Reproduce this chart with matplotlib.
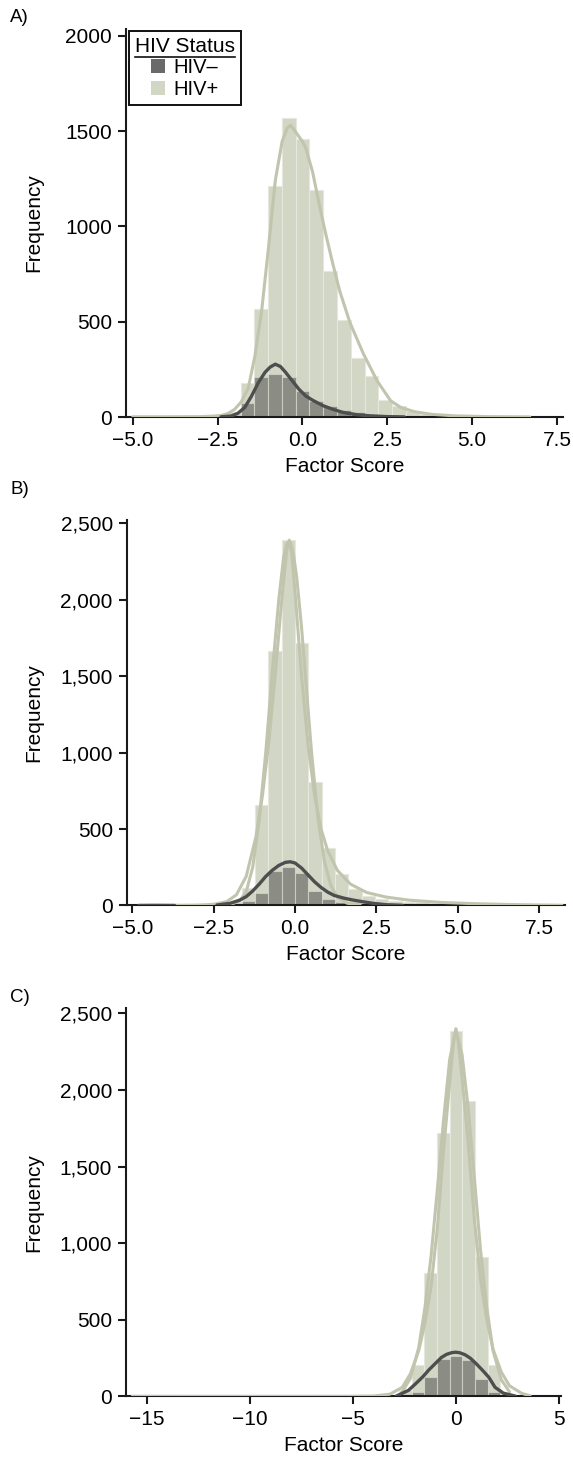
import numpy as np
import matplotlib
matplotlib.use("Agg")
import matplotlib.pyplot as plt
from matplotlib.patches import Patch
from matplotlib.lines import Line2D
from matplotlib.ticker import StrMethodFormatter

plt.rcParams['font.family'] = ['Liberation Sans', 'DejaVu Sans']

# ---- data ----
# panel A: bins start / width, counts per bin
a_start, a_width = -5.072, 0.406
a_pos = [1, 0, 1, 1, 2, 4, 10, 28, 180, 567, 1210, 1567, 1456, 1193, 768, 509,
         310, 213, 90, 58, 30, 18, 10, 6, 4, 3, 2, 1, 1]
a_neg = [0, 0, 0, 0, 0, 0, 2, 12, 75, 210, 228, 210, 135, 85, 57, 38,
         24, 14, 7, 4, 2, 1, 0, 0, 0, 0, 0, 0, 0]
a_kde_pos_x = [-5.0, -4.0, -3.0, -2.6, -2.4, -2.2, -2.0, -1.8, -1.6, -1.4, -1.2, -1.0, -0.8,
               -0.6, -0.45, -0.35, -0.2, 0.0, 0.1, 0.3, 0.5, 0.7, 0.9, 1.1, 1.4, 1.8, 2.2,
               2.6, 2.9, 3.3, 3.8, 4.5, 5.5, 6.7]
a_kde_pos_y = [1, 1, 2, 5, 8, 18, 40, 80, 150, 320, 560, 890, 1240, 1445, 1515, 1530, 1495,
               1445, 1410, 1285, 1110, 950, 800, 660, 495, 330, 190, 85, 50, 28, 14, 6, 2, 0.5]
a_kde_neg_x = [-2.4, -2.1, -1.9, -1.7, -1.5, -1.3, -1.1, -0.95, -0.8, -0.65, -0.5, -0.3,
               -0.1, 0.1, 0.3, 0.6, 0.9, 1.2, 1.6, 2.0, 2.5, 3.0]
a_kde_neg_y = [1, 5, 20, 50, 110, 180, 235, 262, 277, 265, 235, 190, 145, 110, 88, 60,
               40, 24, 12, 6, 2, 0.5]

# panel B
b_start, b_width = -4.92, 0.41
b_pos = [0, 0, 0, 0, 1, 2, 8, 25, 117, 658, 1668, 2388, 1720, 810, 378, 205, 105, 60,
         40, 32, 25, 20, 16, 13, 11, 9, 7, 5, 4, 3, 2, 1]
b_neg = [1, 1, 0, 0, 0, 0, 0, 5, 30, 85, 225, 250, 215, 95, 45, 25, 12, 6,
         3, 2, 0, 0, 0, 0, 0, 0, 0, 0, 0, 0, 0, 0]
b_kde1_x = [-2.0, -1.7, -1.5, -1.3, -1.1, -0.9, -0.7, -0.5, -0.35, -0.25, -0.15, -0.05,
            0.05, 0.2, 0.35, 0.5, 0.7, 0.9, 1.1, 1.3, 1.6, 2.0]
b_kde1_y = [5, 30, 90, 250, 560, 1000, 1520, 2000, 2280, 2370, 2380, 2300, 2150, 1820,
            1420, 1020, 580, 290, 130, 55, 15, 3]
b_kde2_x = [-3.7, -3.0, -2.5, -2.1, -1.8, -1.5, -1.2, -1.0, -0.8, -0.6, -0.4, -0.25, -0.18,
            -0.1, 0.0, 0.2, 0.4, 0.6, 0.8, 1.0, 1.3, 1.7, 2.2, 2.8, 3.5, 4.5, 5.5, 6.5, 7.5, 8.2]
b_kde2_y = [0.5, 2, 8, 25, 70, 190, 450, 720, 1080, 1530, 2020, 2330, 2390, 2300, 2050,
            1500, 1050, 720, 500, 360, 230, 140, 85, 55, 35, 20, 12, 7, 3, 1]
b_kde_neg_x = [-4.8, -4.3, -3.7, np.nan, -2.4, -2.0, -1.7, -1.5, -1.3, -1.1, -0.9, -0.7, -0.5,
               -0.3, -0.15, 0.0, 0.2, 0.4, 0.6, 0.8, 1.0, 1.2, 1.5, 1.8, 2.1, 2.4, 2.8, 3.3]
b_kde_neg_y = [0.3, 1, 0.3, np.nan, 3, 14, 35, 58, 95, 140, 190, 230, 262, 282, 286, 278,
               245, 200, 155, 118, 88, 66, 48, 35, 24, 14, 5, 1]

# panel C
c_start, c_width = -15.63, 0.613
c_pos = [1, 0, 0, 0, 0, 0, 0, 0, 0, 0, 0, 0, 0, 0, 1, 0, 0, 0, 0, 2, 6, 45, 206, 804,
         1720, 2382, 1930, 913, 206, 18, 5, 2]
c_neg = [0, 0, 0, 0, 0, 0, 0, 0, 0, 0, 0, 0, 0, 0, 0, 0, 0, 0, 0, 0, 0, 5, 30, 125,
         245, 265, 235, 115, 28, 4, 0, 0]
c_kde1_x = [-2.6, -2.2, -1.8, -1.5, -1.2, -0.9, -0.6, -0.3, 0.0, 0.3, 0.6, 0.9, 1.2, 1.5,
            1.8, 2.2, 2.6]
c_kde1_y = [30, 120, 320, 580, 920, 1350, 1800, 2200, 2390, 2230, 1880, 1420, 950, 580,
            300, 110, 30]
c_kde2_x = [-15.7, -13.0, -10.0, -7.0, -5.0, -4.0, -3.2, -2.6, -2.2, -1.8, -1.5, -1.2, -0.9,
            -0.6, -0.3, -0.1, 0.0, 0.1, 0.3, 0.6, 0.9, 1.2, 1.5, 1.8, 2.2, 2.6, 3.2, 3.6]
c_kde2_y = [1, 0.5, 0.5, 0.5, 1, 3, 15, 60, 150, 300, 480, 720, 1100, 1600, 2050, 2330,
            2400, 2330, 2080, 1650, 1150, 760, 500, 310, 160, 70, 20, 5]
c_kde_neg_x = [-2.9, -2.3, -1.9, -1.6, -1.3, -1.0, -0.7, -0.45, -0.2, 0.0, 0.2, 0.45, 0.7,
               1.0, 1.3, 1.6, 1.9, 2.3, 2.9]
c_kde_neg_y = [2, 40, 90, 129, 175, 215, 255, 275, 286, 289, 285, 272, 250, 212, 170,
               125, 60, 22, 2]

light = '#d2d6c5'
light_line = '#c1c5ae'
dark = '#464646'
dark_line = '#4e4e4e'
sep = '#e6e8de'


def draw_panel(ax, start, width, pos, neg, pos_curves, neg_curve):
    lefts = start + width * np.arange(len(pos))
    ax.bar(lefts, pos, width=width, align='edge', color=light, edgecolor=sep,
           linewidth=0.8, zorder=1)
    ax.bar(lefts, neg, width=width, align='edge', color=dark, alpha=0.5,
           edgecolor=sep, linewidth=0.8, zorder=2)
    for cx, cy in pos_curves:
        ax.plot(cx, cy, color=light_line, lw=2.2, zorder=3, solid_capstyle='round')
    ax.plot(neg_curve[0], neg_curve[1], color=dark_line, lw=2.4, zorder=4,
            solid_capstyle='round')
    for s in ['top', 'right']:
        ax.spines[s].set_visible(False)
    for s in ['left', 'bottom']:
        ax.spines[s].set_linewidth(1.5)
        ax.spines[s].set_color('#1a1a1a')
    ax.tick_params(axis='both', direction='out', length=6, width=1.5,
                   labelsize=15, color='#1a1a1a', pad=4)
    ax.set_xlabel('Factor Score', fontsize=15, labelpad=5)
    ax.set_ylabel('Frequency', fontsize=15)
    ax.yaxis.set_label_coords(-0.19, 0.5)


fig = plt.figure(figsize=(5.73, 14.64), dpi=100)

axA = fig.add_axes([0.2199, 0.71516, 0.7627, 0.26503])
draw_panel(axA, a_start, a_width, a_pos, a_neg, [(a_kde_pos_x, a_kde_pos_y)],
           (a_kde_neg_x, a_kde_neg_y))
axA.set_xlim(-5.2, 7.68)
axA.set_ylim(0, 2035)
axA.set_xticks([-5.0, -2.5, 0.0, 2.5, 5.0, 7.5])
axA.set_yticks([0, 500, 1000, 1500, 2000])

axB = fig.add_axes([0.2211, 0.38149, 0.7649, 0.26332])
draw_panel(axB, b_start, b_width, b_pos, b_neg,
           [(b_kde1_x, b_kde1_y), (b_kde2_x, b_kde2_y)], (b_kde_neg_x, b_kde_neg_y))
axB.set_xlim(-5.17, 8.29)
axB.set_ylim(0, 2522)
axB.set_xticks([-5.0, -2.5, 0.0, 2.5, 5.0, 7.5])
axB.set_yticks([0, 500, 1000, 1500, 2000, 2500])
axB.yaxis.set_major_formatter(StrMethodFormatter('{x:,.0f}'))

axC = fig.add_axes([0.2199, 0.04611, 0.7592, 0.26537])
draw_panel(axC, c_start, c_width, c_pos, c_neg,
           [(c_kde1_x, c_kde1_y), (c_kde2_x, c_kde2_y)], (c_kde_neg_x, c_kde_neg_y))
axC.set_xlim(-16.0, 5.1)
axC.set_ylim(0, 2535)
axC.set_xticks([-15, -10, -5, 0, 5])
axC.set_yticks([0, 500, 1000, 1500, 2000, 2500])
axC.yaxis.set_major_formatter(StrMethodFormatter('{x:,.0f}'))

# legend (panel A)
handles = [Patch(facecolor='#6a6a6a', edgecolor='none', label='HIV\u2013'),
           Patch(facecolor=light, edgecolor='none', label='HIV+')]
leg = axA.legend(handles=handles, title='HIV Status', loc='upper left',
                 bbox_to_anchor=(0.007, 0.995), borderaxespad=0, fontsize=14.5,
                 title_fontsize=15, frameon=True, fancybox=False, framealpha=1,
                 edgecolor='#111111', handlelength=0.7, handleheight=0.7,
                 handletextpad=0.4, labelspacing=0.12, borderpad=0.3)
leg.get_frame().set_linewidth(1.4)

fig.text(10 / 573, 1 - 18 / 1464, 'A)', fontsize=13.5, va='center', ha='left')
fig.text(10 / 573, 1 - 490 / 1464, 'B)', fontsize=13.5, va='center', ha='left')
fig.text(10 / 573, 1 - 997 / 1464, 'C)', fontsize=13.5, va='center', ha='left')

# underline the legend title
fig.canvas.draw()
bb = leg.get_title().get_window_extent()
inv = fig.transFigure.inverted()
(x0, y0), (x1, y1) = inv.transform([[bb.x0, bb.y0], [bb.x1, bb.y0]])
fig.add_artist(Line2D([x0, x1], [y0 - 0.0005, y1 - 0.0005], color='#111111', lw=1.2,
                      transform=fig.transFigure))

fig.savefig('out.png', dpi=100)
